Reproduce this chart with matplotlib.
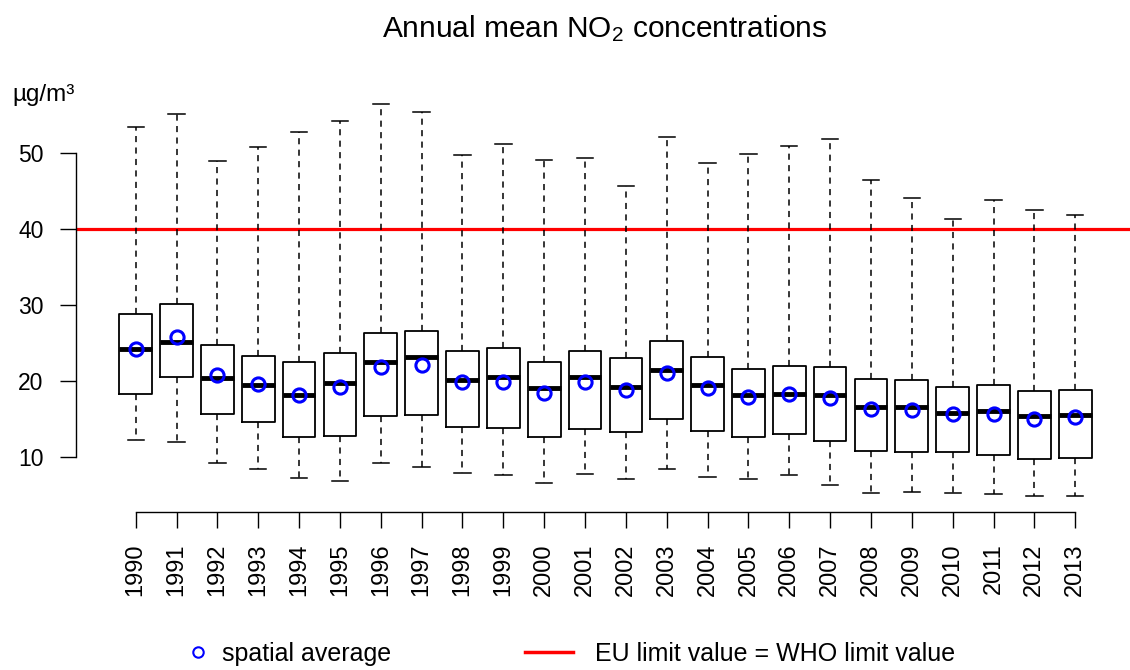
import matplotlib
matplotlib.use('Agg')
import matplotlib.pyplot as plt
from matplotlib.lines import Line2D

plt.rcParams['font.family'] = ['Liberation Sans', 'DejaVu Sans']
plt.rcParams['mathtext.fontset'] = 'custom'
plt.rcParams['mathtext.rm'] = 'Liberation Sans'
plt.rcParams['mathtext.default'] = 'regular'

# values (ug/m3)
years = list(range(1990, 2014))
whis_hi = [53.5, 55.1, 48.9, 50.75, 52.8, 54.25, 56.45, 55.45, 49.8, 51.2, 49.1, 49.35,
           45.65, 52.15, 48.7, 49.9, 50.9, 51.85, 46.5, 44.1, 41.3, 43.8, 42.5, 41.9]
q3 = [28.8, 30.1, 24.7, 23.3, 22.5, 23.7, 26.3, 26.6, 24.0, 24.3, 22.5, 24.0,
      22.95, 25.3, 23.15, 21.6, 22.0, 21.85, 20.2, 20.1, 19.2, 19.45, 18.7, 18.8]
medians = [24.25, 25.1, 20.35, 19.5, 18.2, 19.75, 22.45, 23.1, 20.1, 20.55, 19.0, 20.45,
           19.25, 21.5, 19.4, 18.1, 18.25, 18.1, 16.6, 16.6, 15.75, 16.05, 15.4, 15.5]
q1 = [18.3, 20.5, 15.65, 14.65, 12.6, 12.7, 15.4, 15.55, 13.9, 13.8, 12.55, 13.65,
      13.25, 14.95, 13.45, 12.6, 13.0, 12.05, 10.75, 10.65, 10.65, 10.2, 9.65, 9.9]
whis_lo = [12.2, 11.9, 9.2, 8.4, 7.2, 6.75, 9.2, 8.65, 7.85, 7.55, 6.55, 7.75,
           7.1, 8.4, 7.3, 7.1, 7.55, 6.35, 5.2, 5.35, 5.2, 5.1, 4.8, 4.9]
means = [24.2, 25.8, 20.8, 19.65, 18.2, 19.25, 21.8, 22.1, 19.8, 19.9, 18.45, 19.8,
         18.8, 21.0, 19.1, 17.85, 18.3, 17.7, 16.3, 16.2, 15.6, 15.7, 15.0, 15.2]
limit_value = 40

stats = []
for i, yr in enumerate(years):
    stats.append(dict(label=str(yr), med=medians[i], q1=q1[i], q3=q3[i],
                      whislo=whis_lo[i], whishi=whis_hi[i], mean=means[i]))

fig = plt.figure(figsize=(11.3, 6.7), dpi=100)
ax = fig.add_axes([0.0673, 0.2358, 0.937, 0.632])

pos = list(range(1, len(years) + 1))
ax.bxp(stats, positions=pos, widths=0.8, capwidths=0.4, showmeans=True,
       showfliers=False,
       boxprops=dict(color='black', linewidth=1.3),
       medianprops=dict(color='black', linewidth=3.5, solid_capstyle='butt'),
       whiskerprops=dict(color='black', linewidth=1.1, linestyle=(0, (4, 3.5))),
       capprops=dict(color='black', linewidth=1.1),
       meanprops=dict(marker='o', markerfacecolor='none', markeredgecolor='blue',
                      markeredgewidth=2.2, markersize=9.5))

ax.axhline(limit_value, color='red', linewidth=2.3, zorder=1)

ax.set_xlim(-0.46, 25.46)
ax.set_ylim(2.73, 58.5)
for s in ['top', 'right']:
    ax.spines[s].set_visible(False)
ax.spines['left'].set_bounds(10, 50)
ax.spines['bottom'].set_bounds(1, 24)
ax.spines['left'].set_linewidth(1.0)
ax.spines['bottom'].set_linewidth(1.0)
ax.set_yticks([10, 20, 30, 40, 50])
ax.set_xticks(pos)
ax.set_xticklabels([str(y) for y in years], rotation=90)
ax.tick_params(axis='both', direction='out', length=11.5, width=1.0)
ax.tick_params(axis='y', pad=12, labelsize=16.5)
ax.tick_params(axis='x', pad=11, labelsize=17)

fig.text(0.5354, 1 - 37 / 670, 'Annual mean NO$_2$ concentrations',
         ha='center', va='baseline', fontsize=21.5)
fig.text(12 / 1130, 1 - 101 / 670, 'µg/m³', ha='left', va='baseline', fontsize=17.5)

h1 = Line2D([], [], marker='o', linestyle='', markerfacecolor='none',
            markeredgecolor='blue', markeredgewidth=1.5, markersize=7.5)
h2 = Line2D([], [], color='red', linewidth=2.5)
fig.legend([h1], ['spatial average'], loc='center left',
           bbox_to_anchor=(188 / 1130, 0.0239), frameon=False, fontsize=18,
           borderpad=0, borderaxespad=0, handlelength=0.8, handletextpad=0.56)
fig.legend([h2], ['EU limit value = WHO limit value'], loc='center left',
           bbox_to_anchor=(525 / 1130, 0.0239), frameon=False, fontsize=18,
           borderpad=0, borderaxespad=0, handlelength=1.92, handletextpad=0.88)

fig.savefig('out.png', dpi=100)
